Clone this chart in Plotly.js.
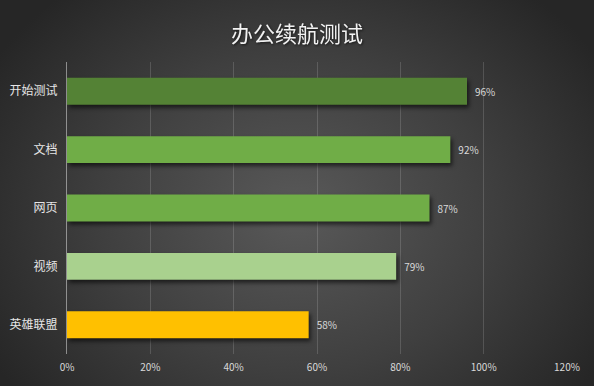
<!DOCTYPE html>
<html>
<head>
<meta charset="utf-8">
<script src="https://cdn.plot.ly/plotly-3.0.1.min.js"></script>
<style>
html,body{margin:0;padding:0;}
#chart{width:594px;height:386px;background:radial-gradient(ellipse 60% 75% at 50% 55%, #595959 0%, #3f3f3f 55%, #262626 100%);}
.barlayer .bars path{filter:drop-shadow(2px 3px 2px rgba(0,0,0,0.6));}
.gtitle{filter:drop-shadow(1px 1px 1px rgba(0,0,0,0.6));}
</style>
</head>
<body>
<div id="chart"></div>
<script>
const categories = ['开始测试', '文档', '网页', '视频', '英雄联盟'];
const values = [96, 92, 87, 79, 58];
const barColors = ['#548235', '#70AD47', '#70AD47', '#A9D18E', '#FFC000'];
const xTickValues = [0, 20, 40, 60, 80, 100, 120];
const xTickLabels = ['0%', '20%', '40%', '60%', '80%', '100%', '120%'];

const font = '"Noto Sans CJK SC", "Microsoft YaHei", sans-serif';

const trace = {
  type: 'bar',
  orientation: 'h',
  y: categories,
  x: values,
  marker: {color: barColors, line: {width: 0}},
  text: values.map(v => '\u2002' + v + '%'),
  textposition: 'outside',
  textfont: {color: '#d9d9d9', size: 10, family: font},
  cliponaxis: false,
  hoverinfo: 'none'
};

const layout = {
  width: 594,
  height: 386,
  paper_bgcolor: 'rgba(0,0,0,0)',
  plot_bgcolor: 'rgba(0,0,0,0)',
  margin: {l: 67, r: 27, t: 62, b: 32},
  bargap: 0.54,
  showlegend: false,
  title: {
    text: '办公续航测试',
    font: {family: font, size: 22, color: '#f2f2f2'},
    x: 0.5, xanchor: 'center',
    y: 0.91, yanchor: 'middle'
  },
  xaxis: {
    range: [0, 120],
    tickvals: xTickValues,
    ticktext: xTickLabels,
    showgrid: true,
    gridcolor: 'rgba(255,255,255,0.15)',
    gridwidth: 1,
    zeroline: false,
    showline: false,
    tickfont: {family: font, size: 10, color: '#d9d9d9'},
    ticks: '',
    ticklabelstandoff: 6,
    fixedrange: true
  },
  yaxis: {
    autorange: 'reversed',
    showgrid: false,
    zeroline: false,
    showline: true,
    linecolor: 'rgba(255,255,255,0.45)',
    linewidth: 1,
    tickfont: {family: font, size: 12, color: '#e6e6e6'},
    ticks: '',
    ticklabelstandoff: 6,
    fixedrange: true
  }
};

Plotly.newPlot('chart', [trace], layout, {displayModeBar: false, staticPlot: true});
</script>
</body>
</html>
